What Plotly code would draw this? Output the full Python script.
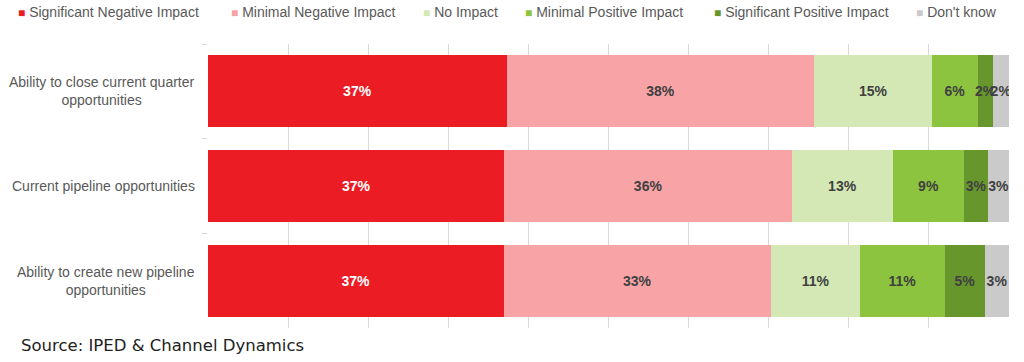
import plotly.graph_objects as go

categories = [
    "Ability to close current quarter<br>opportunities",
    "Current pipeline opportunities",
    "Ability to create new pipeline<br>opportunities",
]
series_names = [
    "Significant Negative Impact",
    "Minimal Negative Impact",
    "No Impact",
    "Minimal Positive Impact",
    "Significant Positive Impact",
    "Don't know",
]
sig_negative = [37.3, 37.0, 36.9]
min_negative = [38.4, 35.9, 33.4]
no_impact = [14.7, 12.6, 11.1]
min_positive = [5.7, 8.9, 10.6]
sig_positive = [1.9, 3.0, 5.0]
dont_know = [2.0, 2.6, 3.0]
series_values = [sig_negative, min_negative, no_impact, min_positive, sig_positive, dont_know]

colors = ["#EC1C24", "#F8A4A7", "#D3E8B4", "#8CC43F", "#67962D", "#CACACA"]
text_colors = ["#FFFFFF", "#404040", "#404040", "#404040", "#404040", "#404040"]

W, H = 1024, 362
ML, MR, MT, MB = 208, 15, 44, 34
PW = W - ML - MR
PH = H - MT - MB

def px_x(p):
    return (p - ML) / PW

def px_y(p):
    return 1 - (p - MT) / PH

fig = go.Figure()
for name, vals, col, tcol in zip(series_names, series_values, colors, text_colors):
    fig.add_trace(go.Bar(
        y=categories, x=vals, name=name, orientation="h",
        marker=dict(color=col, line=dict(width=0)),
        texttemplate="%{x:.0f}%", textposition="inside",
        insidetextanchor="middle", textangle=0, constraintext="none",
        textfont=dict(family="Liberation Sans, Arial", size=14, color=tcol, weight="bold"),
        showlegend=False, hoverinfo="skip",
    ))

annotations = []
legend_x = [16, 229, 421, 523, 712, 914]
for name, col, lx in zip(series_names, colors, legend_x):
    annotations.append(dict(
        xref="paper", yref="paper", x=px_x(lx), y=px_y(12),
        xanchor="left", yanchor="middle", showarrow=False,
        text=f'<span style="color:{col};font-size:12px">■</span> {name}',
        font=dict(family="Liberation Sans, Arial", size=14, color="#595959"),
    ))
for cat in categories:
    annotations.append(dict(
        xref="paper", yref="y", x=px_x(197), y=cat,
        xanchor="right", yanchor="middle", align="center", showarrow=False,
        text=cat, font=dict(family="Liberation Sans, Arial", size=14, color="#595959"),
    ))
annotations.append(dict(
    xref="paper", yref="paper", x=px_x(19), y=px_y(345),
    xanchor="left", yanchor="middle", showarrow=False,
    text="Source: IPED &amp; Channel Dynamics",
    font=dict(family="DejaVu Sans", size=16.5, color="#222222"),
))

fig.update_layout(
    width=W, height=H, barmode="stack", bargap=0.24,
    margin=dict(l=ML, r=MR, t=MT, b=MB),
    paper_bgcolor="white", plot_bgcolor="white",
    annotations=annotations,
    xaxis=dict(range=[0, 100], dtick=10, showgrid=True, gridcolor="#D9D9D9", gridwidth=1,
               showticklabels=False, zeroline=False, showline=False, ticks=""),
    yaxis=dict(autorange="reversed", showticklabels=False, showgrid=False,
               ticks="outside", tickson="boundaries", ticklen=5, tickcolor="#D9D9D9",
               showline=False, zeroline=False),
)
fig.write_html("out.html", config={"displayModeBar": False},
               post_script="document.body.style.margin='0';")
